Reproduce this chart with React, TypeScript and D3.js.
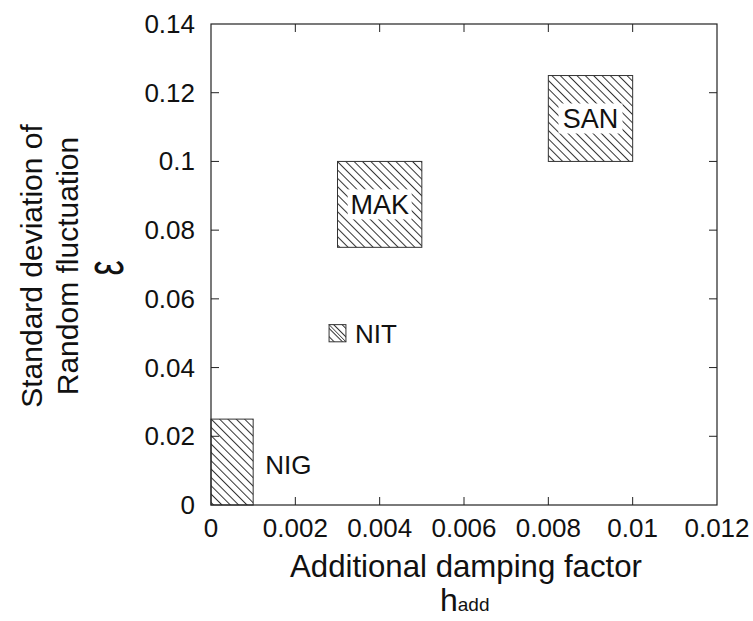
import React from "react";
import * as d3 from "d3";

const regionNames = ["NIG", "NIT", "MAK", "SAN"];
const hMin = [0, 0.0028, 0.003, 0.008];
const hMax = [0.001, 0.0032, 0.005, 0.01];
const epsMin = [0, 0.0475, 0.075, 0.1];
const epsMax = [0.025, 0.0525, 0.1, 0.125];
// label placement: "inside" = centered on white patch, "right" = beside the box
const labelMode = ["right", "right", "inside", "inside"];

const xTicks = [0, 0.002, 0.004, 0.006, 0.008, 0.01, 0.012];
const yTicks = [0, 0.02, 0.04, 0.06, 0.08, 0.1, 0.12, 0.14];
const xTickLabels = ["0", "0.002", "0.004", "0.006", "0.008", "0.01", "0.012"];
const yTickLabels = ["0", "0.02", "0.04", "0.06", "0.08", "0.1", "0.12", "0.14"];

const W = 753;
const H = 621;
const L = 211, R = 717, T = 24, B = 505;
const FONT = "'Liberation Sans', Arial, Helvetica, sans-serif";

export default function App() {
  const x = d3.scaleLinear().domain([0, 0.012]).range([L, R]);
  const y = d3.scaleLinear().domain([0, 0.14]).range([B, T]);
  const tickLen = 8;
  const ink = "#222";

  return (
    <svg
      width={W}
      height={H}
      style={{ position: "absolute", left: 0, top: 0, background: "#fff" }}
      fontFamily={FONT}
    >
      <defs>
        <pattern
          id="hatch"
          patternUnits="userSpaceOnUse"
          width={5.9}
          height={5.9}
          patternTransform="rotate(-45)"
        >
          <line x1={0.5} y1={0} x2={0.5} y2={5.9} stroke="#333" strokeWidth={1} />
        </pattern>
      </defs>
      <rect x={0} y={0} width={W} height={H} fill="#fff" />

      {/* regions */}
      {regionNames.map((name, i) => {
        const x0 = x(hMin[i]);
        const x1 = x(hMax[i]);
        const y0 = y(epsMax[i]);
        const y1 = y(epsMin[i]);
        const cx = (x0 + x1) / 2;
        const cy = (y0 + y1) / 2;
        return (
          <g key={name}>
            <rect x={x0} y={y0} width={x1 - x0} height={y1 - y0} fill="url(#hatch)" stroke="#333" strokeWidth={1} />
            {name === "NIT" && (
              <line x1={x0} y1={y0} x2={x1} y2={y1} stroke="#333" strokeWidth={1} />
            )}
            {labelMode[i] === "inside" ? (
              <g>
                <rect x={cx - 32} y={cy - 15} width={64} height={30} fill="#fff" />
                <text x={cx} y={cy + 10} textAnchor="middle" fontSize={27} fill="#111">
                  {name}
                </text>
              </g>
            ) : (
              <text
                x={x1 + (name === "NIG" ? 12 : 9)}
                y={name === "NIG" ? y(0.009) : cy + 10}
                fontSize={26}
                fill="#111"
              >
                {name}
              </text>
            )}
          </g>
        );
      })}

      {/* frame */}
      <rect x={L} y={T} width={R - L} height={B - T} fill="none" stroke={ink} strokeWidth={1.2} />

      {/* x ticks */}
      {xTicks.map((t, i) => (
        <g key={"xt" + i}>
          {i > 0 && i < xTicks.length - 1 && (
            <>
              <line x1={x(t)} x2={x(t)} y1={B} y2={B - tickLen} stroke={ink} />
              <line x1={x(t)} x2={x(t)} y1={T} y2={T + tickLen} stroke={ink} />
            </>
          )}
          <text x={x(t)} y={B + 32} textAnchor="middle" fontSize={26} fill="#111">
            {xTickLabels[i]}
          </text>
        </g>
      ))}

      {/* y ticks */}
      {yTicks.map((t, i) => (
        <g key={"yt" + i}>
          {i > 0 && i < yTicks.length - 1 && (
            <>
              <line x1={L} x2={L + tickLen} y1={y(t)} y2={y(t)} stroke={ink} />
              <line x1={R} x2={R - tickLen} y1={y(t)} y2={y(t)} stroke={ink} />
            </>
          )}
          <text x={195} y={y(t) + 9} textAnchor="end" fontSize={26} fill="#111">
            {yTickLabels[i]}
          </text>
        </g>
      ))}

      {/* x title */}
      <text x={290} y={577} fontSize={31.2} fill="#111">
        Additional damping factor
      </text>
      <text x={440} y={611} fill="#111">
        <tspan fontSize={32}>h</tspan>
        <tspan fontSize={19}>add</tspan>
      </text>

      {/* y title */}
      <text transform="translate(42,266) rotate(-90)" textAnchor="middle" fontSize={30} fill="#111">
        Standard deviation of
      </text>
      <text transform="translate(78,266) rotate(-90)" textAnchor="middle" fontSize={30} fill="#111">
        Random fluctuation
      </text>
      <text
        transform="translate(123,268) rotate(-90) scale(0.65,1)"
        textAnchor="middle"
        fontSize={52}
        fill="#111"
      >
        ε
      </text>
    </svg>
  );
}
